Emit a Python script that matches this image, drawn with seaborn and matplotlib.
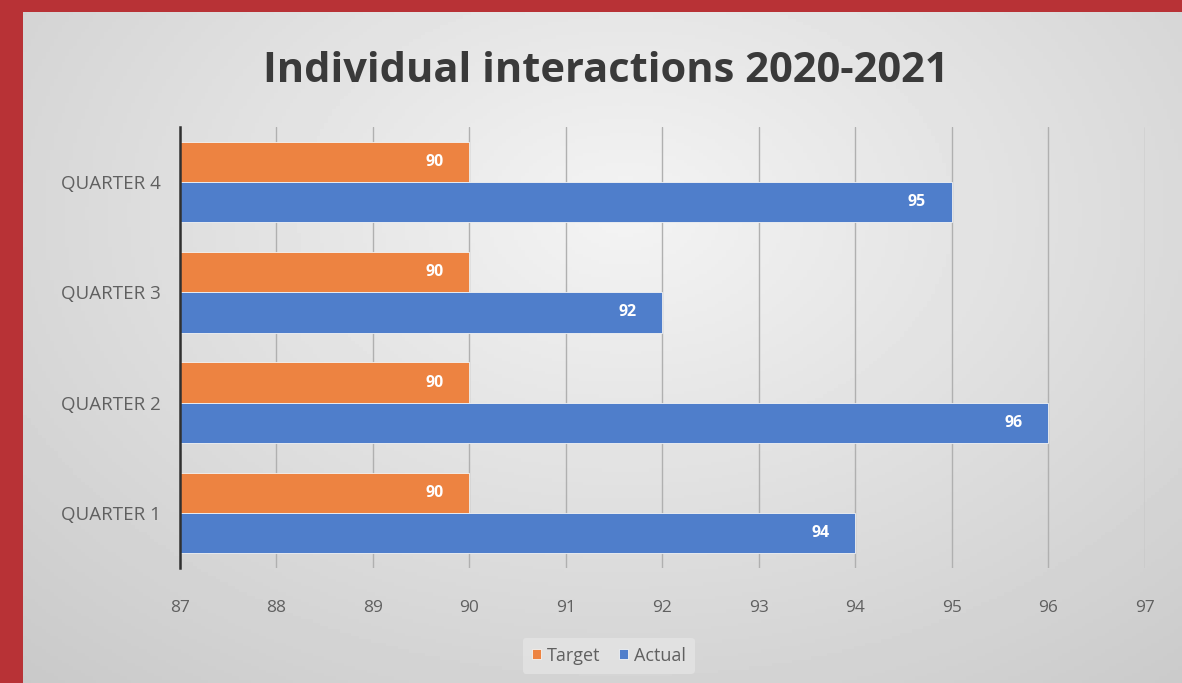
import numpy as np
import pandas as pd
import matplotlib
matplotlib.use("Agg")
import matplotlib.pyplot as plt
import seaborn as sns

# ---- data ----
quarters = ["QUARTER 4", "QUARTER 3", "QUARTER 2", "QUARTER 1"]
target = [90, 90, 90, 90]
actual = [95, 92, 96, 94]
series_names = ["Target", "Actual"]
x_ticks = [87, 88, 89, 90, 91, 92, 93, 94, 95, 96, 97]
title = "Individual interactions 2020-2021"

df = pd.DataFrame({
    "quarter": quarters * 2,
    "series": [series_names[0]] * len(quarters) + [series_names[1]] * len(quarters),
    "value": target + actual,
})

sns.set_theme(style="white")
plt.rcParams["font.family"] = ["Open Sans", "DejaVu Sans"]

W, H = 1182, 683
fig = plt.figure(figsize=(W / 100, H / 100), dpi=100)
fig.patch.set_facecolor("#b83236")

# gradient panel
bg = fig.add_axes([23 / W, 0, 1 - 23 / W, 1 - 12 / H], zorder=-5)
yy, xx = np.mgrid[0:1:200j, 0:1:300j]
r = np.sqrt(((xx - 0.52) / 0.75) ** 2 + ((yy - 0.3) / 0.9) ** 2)
val = np.clip(0.955 - 0.16 * r, 0, 1)
bg.imshow(val, cmap="gray", vmin=0, vmax=1, aspect="auto", extent=[0, 1, 1, 0])
bg.set_axis_off()

ax = fig.add_axes([180 / W, 1 - 568 / H, (1145 - 180) / W, (568 - 127) / H])
ax.patch.set_alpha(0)

palette = {"Target": "#ED8341", "Actual": "#4F7ECB"}
sns.barplot(data=df, y="quarter", x="value", hue="series", order=quarters,
            hue_order=series_names, palette=palette, orient="h", width=0.73,
            saturation=1, ax=ax, legend=True, edgecolor="#f4f4f4", linewidth=0.6)

ax.set_xlim(87, 97)
ax.set_ylim(3.5, -0.5)
ax.set_xticks(x_ticks)
ax.set_xticklabels([str(t) for t in x_ticks])
ax.set_xlabel("")
ax.set_ylabel("")
ax.grid(axis="x", color="#b0b0b0", linewidth=1.0)
ax.set_axisbelow(True)
for s in ["top", "right", "bottom"]:
    ax.spines[s].set_visible(False)
ax.spines["left"].set_color("#303030")
ax.spines["left"].set_linewidth(1.8)
ax.tick_params(axis="x", length=0, pad=23, labelsize=12.5, labelcolor="#606060")
ax.tick_params(axis="y", length=0, pad=14, labelsize=13.5, labelcolor="#606060")

for cont in ax.containers:
    ax.bar_label(cont, fmt="%d", padding=-32, color="white", fontsize=11.5,
                 fontweight="bold")

handles, labels = ax.get_legend_handles_labels()
ax.legend_.remove()
leg = fig.legend(handles, labels, loc="center", bbox_to_anchor=(0.515, 0.04),
                 ncol=2, frameon=True, fontsize=13, handlelength=0.5,
                 handleheight=0.5, handletextpad=0.35, columnspacing=1.0,
                 borderpad=0.5)
leg.get_frame().set_facecolor("#e6e6e6")
leg.get_frame().set_edgecolor("none")
leg.get_frame().set_alpha(0.7)
for t in leg.get_texts():
    t.set_color("#606060")

fig.text(0.513, 1 - 72 / H, title, ha="center", va="center", fontsize=30,
         fontweight="bold", color="#3a3a3a")

fig.savefig("out.png", dpi=100, facecolor=fig.get_facecolor())
